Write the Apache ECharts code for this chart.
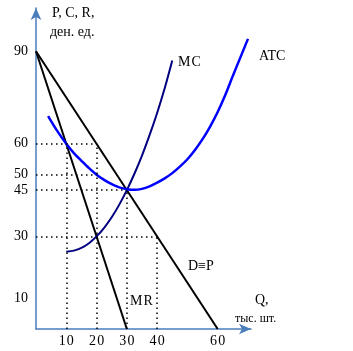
<!DOCTYPE html>
<html>
<head>
<meta charset="utf-8">
<script src="https://cdn.jsdelivr.net/npm/echarts@6/dist/echarts.min.js"></script>
<style>
  html, body { margin: 0; padding: 0; background: #fff; }
  #chart { width: 353px; height: 351px; }
</style>
</head>
<body>
<div id="chart"></div>
<script>
// данные графика (Q, P)
var demand = [[0, 90], [60, 0]];
var marginalRevenue = [[0, 90], [30, 0]];
var marginalCost = [[10, 25], [12.5, 25.4], [15, 26.3], [17.5, 27.8], [20, 30], [22.5, 32.8], [25, 36.2], [27.5, 40.3],
	[30, 45], [32.5, 50.3], [35, 56.2], [37.5, 62.8], [40, 70], [42.5, 78], [45, 87]];
var averageCost = [[4, 69], [7, 64.2], [10, 60], [12.5, 57], [15, 54.5], [17.5, 52.1], [20, 50], [22.5, 48.3], [25, 46.9],
	[27.5, 45.9], [30, 45.3], [32.5, 45.1], [35, 45.4], [37.5, 46.2], [40, 47.4], [42.5, 48.8], [45, 50.5], [47.5, 52.6],
	[50, 55], [52.5, 58], [55, 61.5], [57.5, 65.6], [60, 70.3], [62.5, 75.8], [65, 82], [67.5, 88], [70, 94]];
var xTicks = [10, 20, 30, 40, 60];
var yTicks = [10, 30, 45, 50, 60, 90];
// пунктирные линии
var guides = [
	[[0, 60], [20, 60]],
	[[0, 50], [20, 50]],
	[[0, 45], [30, 45]],
	[[0, 30], [40, 30]],
	[[10, 0], [10, 60]],
	[[20, 0], [20, 60]],
	[[30, 0], [30, 45]],
	[[40, 0], [40, 30]]
];

(function () {
	var font = '"Liberation Serif", "Times New Roman", serif';
	var axisColor = '#4a7ebb';

	function txt(x, y, s, size) {
		return {
			type: 'text', left: x, top: y,
			style: { text: s, font: (size || 14) + 'px ' + font, fill: '#000' }
		};
	}

	var guideLines = [];
	for (var i = 0; i < guides.length; i++) {
		guideLines.push([{ coord: guides[i][0] }, { coord: guides[i][1] }]);
	}

	var option = {
		backgroundColor: '#fff',
		animation: false,
		grid: { left: 36, top: 8, right: 102, bottom: 22, containLabel: false },
		xAxis: {
			type: 'value', min: 0, max: 71, interval: 10,
			splitLine: { show: false },
			axisTick: { show: false },
			axisLine: {
				onZero: false,
				lineStyle: { color: axisColor, width: 1.5 },
				symbol: ['none', 'arrow'], symbolSize: [8, 12], symbolOffset: [0, 0]
			},
			axisLabel: {
				margin: 5, color: '#000', fontSize: 14, fontFamily: font,
				showMaxLabel: false,
				formatter: function (v) { return xTicks.indexOf(v) >= 0 ? String(v).split('').join('\u200a') : ''; }
			}
		},
		yAxis: {
			type: 'value', min: 0, max: 104, interval: 5,
			splitLine: { show: false },
			axisTick: { show: false },
			axisLine: {
				onZero: false,
				lineStyle: { color: axisColor, width: 1.5 },
				symbol: ['none', 'arrow'], symbolSize: [8, 12], symbolOffset: [0, 0]
			},
			axisLabel: {
				margin: 8, color: '#000', fontSize: 14, fontFamily: font,
				showMaxLabel: false,
				formatter: function (v) { return yTicks.indexOf(v) >= 0 ? String(v) : ''; }
			}
		},
		series: [
			{
				type: 'line', data: demand, symbol: 'none',
				lineStyle: { color: '#000', width: 2 },
				markLine: {
					silent: true, symbol: 'none', label: { show: false },
					lineStyle: { color: '#000', width: 1.5, type: [1.5, 3.5] },
					data: guideLines
				}
			},
			{
				type: 'line', data: marginalRevenue, symbol: 'none',
				lineStyle: { color: '#000', width: 2 }
			},
			{
				type: 'line', data: marginalCost, symbol: 'none', smooth: 0.3,
				lineStyle: { color: '#000080', width: 2 }
			},
			{
				type: 'line', data: averageCost, symbol: 'none', smooth: 0.3,
				lineStyle: { color: '#0000ff', width: 2.5 }
			}
		],
		graphic: [
			txt(52, 6, 'P, C, R,'),
			txt(50, 25, 'ден. ед.'),
			txt(178, 55, 'M\u200aC'),
			txt(259, 49, 'ATC'),
			txt(188, 259, 'D\u2261P'),
			txt(130, 294, 'M\u200aR'),
			txt(255, 293, 'Q,'),
			txt(235, 313, 'тыс. шт.', 12)
		]
	};

	var chart = echarts.init(document.getElementById('chart'));
	chart.setOption(option);
})();
</script>
</body>
</html>
